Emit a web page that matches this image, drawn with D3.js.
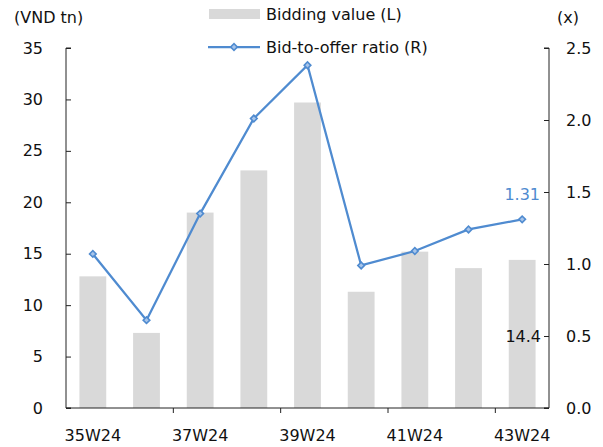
<!DOCTYPE html>
<html>
<head>
<meta charset="utf-8">
<script src="https://cdn.jsdelivr.net/npm/d3@7"></script>
<style>
  html, body { margin: 0; padding: 0; background: #fff; }
  svg text { font-family: "DejaVu Sans", Verdana, sans-serif; fill: #111; }
</style>
</head>
<body>
<svg id="chart" width="603" height="447"></svg>
<script>
// Weekly bidding value (VND tn, left axis) and bid-to-offer ratio (x, right axis)
const weeks = ["35W24", "36W24", "37W24", "38W24", "39W24", "40W24", "41W24", "42W24", "43W24"];
const biddingValue = [12.8, 7.3, 19.0, 23.1, 29.7, 11.3, 15.2, 13.6, 14.4];
const bidToOffer = [1.07, 0.61, 1.35, 2.01, 2.38, 0.99, 1.09, 1.24, 1.31];
const leftTicks = [0, 5, 10, 15, 20, 25, 30, 35];
const rightTicks = [0, 0.5, 1.0, 1.5, 2.0, 2.5];
const labelledWeeks = ["35W24", "37W24", "39W24", "41W24", "43W24"];

const barColor = "#d9d9d9";
const lineColor = "#4f8bd0";
const markerFill = "#a8c5ea";

const svg = d3.select("#chart");
const m = { left: 66, right: 549, top: 48, bottom: 408 };

const x = d3.scaleBand().domain(weeks).range([m.left, m.right]).paddingInner(0).paddingOuter(0);
const yL = d3.scaleLinear().domain([0, 35]).range([m.bottom, m.top]);
const yR = d3.scaleLinear().domain([0, 2.5]).range([m.bottom, m.top]);
const barW = x.bandwidth() * 0.5;

// bars
svg.append("g").selectAll("rect").data(weeks).join("rect")
  .attr("x", d => x(d) + (x.bandwidth() - barW) / 2)
  .attr("y", (d, i) => yL(biddingValue[i]))
  .attr("width", barW)
  .attr("height", (d, i) => yL(0) - yL(biddingValue[i]))
  .attr("fill", barColor);

// left axis
const gL = svg.append("g").attr("transform", `translate(${m.left},0)`)
  .call(d3.axisRight(yL).tickValues(leftTicks).tickSize(5).tickFormat(d3.format("d")));
gL.select(".domain").attr("stroke", "#222").attr("d", `M5,${m.top}H0V${m.bottom}H5`);
gL.selectAll(".tick line").attr("stroke", "#222");
gL.selectAll(".tick text").attr("x", -23).attr("text-anchor", "end").attr("font-size", 16).attr("fill", "#111");

// right axis
const gR = svg.append("g").attr("transform", `translate(${m.right},0)`)
  .call(d3.axisLeft(yR).tickValues(rightTicks).tickSize(5).tickFormat(d3.format(".1f")));
gR.select(".domain").attr("stroke", "#222").attr("d", `M-5,${m.top}H0V${m.bottom}H-5`);
gR.selectAll(".tick line").attr("stroke", "#222");
gR.selectAll(".tick text").attr("x", 17).attr("text-anchor", "start").attr("font-size", 16).attr("fill", "#111");

// bottom axis: labels every other week, tick marks every second boundary
const gB = svg.append("g");
gB.append("line").attr("x1", m.left).attr("x2", m.right).attr("y1", yL(0)).attr("y2", yL(0)).attr("stroke", "#222");
const boundaryIdx = [2, 4, 6, 8];
gB.selectAll("line.tk").data(boundaryIdx).join("line").attr("class", "tk")
  .attr("x1", i => x(weeks[i])).attr("x2", i => x(weeks[i]))
  .attr("y1", yL(0)).attr("y2", yL(0) + 5).attr("stroke", "#222");
gB.selectAll("text").data(labelledWeeks).join("text")
  .attr("x", d => x(d) + x.bandwidth() / 2)
  .attr("y", 441)
  .attr("text-anchor", "middle").attr("font-size", 16)
  .text(d => d);

// ratio line
const line = d3.line()
  .x((d, i) => x(weeks[i]) + x.bandwidth() / 2)
  .y(d => yR(d));
svg.append("path").datum(bidToOffer)
  .attr("d", line).attr("fill", "none").attr("stroke", lineColor).attr("stroke-width", 2.25);
// diamond markers: a small square turned by 45 degrees
const marker = d3.symbol().type(d3.symbolSquare).size(22);
svg.append("g").selectAll("path").data(bidToOffer).join("path")
  .attr("d", marker)
  .attr("transform", (d, i) => `translate(${x(weeks[i]) + x.bandwidth() / 2},${yR(d)}) rotate(45)`)
  .attr("fill", markerFill).attr("stroke", lineColor).attr("stroke-width", 1.6);

// value labels for the last week
const last = weeks.length - 1;
svg.append("text")
  .attr("x", 540).attr("y", yR(bidToOffer[last]) - 19)
  .attr("text-anchor", "end").attr("font-size", 16)
  .style("fill", lineColor)
  .text(bidToOffer[last].toFixed(2));
svg.append("text")
  .attr("x", 541).attr("y", yR(0.5) + 6)
  .attr("text-anchor", "end").attr("font-size", 16)
  .text(biddingValue[last].toFixed(1));

// axis unit titles
svg.append("text").attr("x", 14).attr("y", 23).attr("font-size", 16).text("(VND tn)");
svg.append("text").attr("x", 557).attr("y", 23).attr("font-size", 16).text("(x)");

// legend
const lg = svg.append("g");
lg.append("rect").attr("x", 209).attr("y", 9).attr("width", 51).attr("height", 10).attr("fill", barColor);
lg.append("text").attr("x", 266).attr("y", 20).attr("font-size", 16).text("Bidding value (L)");
lg.append("line").attr("x1", 208).attr("x2", 260).attr("y1", 47).attr("y2", 47)
  .attr("stroke", lineColor).attr("stroke-width", 2.25);
lg.append("path").attr("d", marker).attr("transform", "translate(234,47) rotate(45)")
  .attr("fill", markerFill).attr("stroke", lineColor).attr("stroke-width", 1.6);
lg.append("text").attr("x", 266).attr("y", 53).attr("font-size", 16).text("Bid-to-offer ratio (R)");
</script>
</body>
</html>
